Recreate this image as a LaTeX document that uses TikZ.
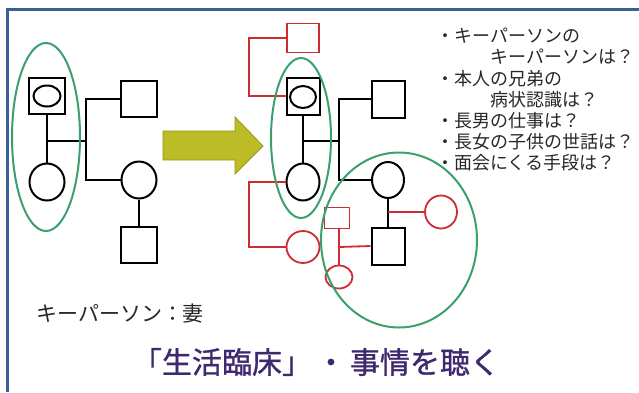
\documentclass[tikz,border=0pt]{standalone}
\usepackage{fontspec}
\newfontfamily\jp{Noto Sans CJK JP}
\newfontfamily\jpb{Noto Sans CJK JP}[FakeBold=1]
\usetikzlibrary{shapes.geometric,calc}
\definecolor{bordblue}{RGB}{58,94,150}
\definecolor{ggreen}{RGB}{60,160,110}
\definecolor{rred}{RGB}{205,45,50}
\definecolor{olive}{RGB}{188,188,38}
\definecolor{olivedark}{RGB}{150,150,25}
\definecolor{titlepurple}{RGB}{62,40,110}
\definecolor{txtgray}{RGB}{40,40,40}
\tikzset{
  blk/.style={draw=black, line width=2pt},
  rdl/.style={draw=rred, line width=1.8pt},
  lmale/.style={rectangle, blk, minimum width=36pt, minimum height=36pt, inner sep=0pt},
  lfemale/.style={ellipse, blk, minimum width=35pt, minimum height=37pt, inner sep=0pt},
  rmale/.style={rectangle, blk, minimum width=33pt, minimum height=37pt, inner sep=0pt},
  rfemale/.style={ellipse, blk, minimum width=33pt, minimum height=37pt, inner sep=0pt},
  inner/.style={ellipse, blk, inner sep=0pt},
  grn/.style={draw=ggreen, line width=2pt},
  bullet/.style={anchor=west, inner sep=0pt, text=txtgray, font=\jp\fontsize{18}{18}\selectfont},
}
\begin{document}
\begin{tikzpicture}[x=1pt,y=-1pt]
\useasboundingbox (0,0) rectangle (639,392);
\fill[white] (0,0) rectangle (639,392);
\draw[bordblue, line width=3pt] (7,392) -- (7,9) -- (639,9);

% ---------- left tree ----------
\node[lmale] (la) at (47,96) {};
\node[inner, minimum width=27pt, minimum height=21pt] (lai) at (47,96) {};
\node[lfemale] (lb) at (47,182) {};
\node[lmale] (lc) at (139,99) {};
\node[lfemale] (ld) at (139,180) {};
\node[lmale] (le) at (139,245) {};
\coordinate (lm) at (47,141);
\coordinate (lk) at (86,141);
\draw[blk] (la.south) -- (lb.north);
\draw[blk] (lm) -- (lk);
\draw[blk] (lc.west) -| (lk) |- (ld.west);
\draw[blk] (ld.south) -- (le.north);
\node[ellipse, grn, minimum width=68pt, minimum height=188pt] (lg) at (46,137) {};

% ---------- arrow ----------
\draw[fill=olive, draw=olivedark, line width=0.8pt]
  (163,131) -- (235,131) -- (235,117) -- (263,146) -- (235,174) -- (235,160) -- (163,160) -- cycle;

% ---------- right tree ----------
\node[rmale] (ra) at (303,96) {};
\node[inner, minimum width=26pt, minimum height=22pt] (rai) at (303,97) {};
\node[rfemale] (rb) at (303,182) {};
\node[rmale] (rc) at (388,99) {};
\node[rfemale, minimum width=32pt, minimum height=36pt] (rd) at (388,180) {};
\node[rmale] (re) at (388,246) {};
\coordinate (rm) at (303,141);
\coordinate (rk) at (339,141);
\draw[blk] (ra.south) -- (rb.north);
\draw[blk] (rm) -- (rk);
\draw[blk] (rc.west) -| (rk) |- (rd.west);
\draw[blk] (rd.south) -- (re.north);

% ---------- red additions ----------
\node[rectangle, rdl, minimum width=32pt, minimum height=29pt, inner sep=0pt] (rs) at (303,38) {};
\coordinate (rk1) at (249,66);
\draw[rdl] (rs.west) -| (rk1) |- (ra.west);
\node[ellipse, rdl, minimum width=33pt, minimum height=32pt, inner sep=0pt] (rr2) at (303,247) {};
\coordinate (rk2) at (249,215);
\draw[rdl] (rb.west) -| (rk2) |- (rr2.west);
\node[ellipse, rdl, minimum width=32pt, minimum height=33pt, inner sep=0pt] (rr1) at (441,212) {};
\coordinate (rdj) at (388,212);
\draw[rdl] (rdj) -- (rr1.west);
\node[rectangle, rdl, minimum width=25pt, minimum height=21pt, inner sep=0pt] (rsq) at (337,218) {};
\node[ellipse, rdl, minimum width=27pt, minimum height=23pt, inner sep=0pt] (rr3) at (339,277) {};
\draw[rdl] (rsq.south -| rr3.north) -- (rr3.north);
\coordinate (rj) at (339,247);
\draw[rdl] (rj) -- (re.west);

% ---------- green ellipses ----------
\node[ellipse, grn, minimum width=60pt, minimum height=160pt] (rg1) at (301,138) {};
\node[ellipse, grn, minimum width=156pt, minimum height=175pt] (rg2) at (399,240) {};

% ---------- texts ----------
\node[bullet] (t1) at (436,36) {・キーパーソンの};
\node[bullet] (t2) at (490,57) {キーパーソンは？};
\node[bullet] (t3) at (436,79) {・本人の兄弟の};
\node[bullet] (t4) at (490,100) {病状認識は？};
\node[bullet] (t5) at (436,121) {・長男の仕事は？};
\node[bullet] (t6) at (436,142) {・長女の子供の世話は？};
\node[bullet] (t7) at (436,163) {・面会にくる手段は？};

\node[anchor=west, inner sep=0pt, text=txtgray, font=\jp\fontsize{21}{21}\selectfont] (kp) at (36,314) {キーパーソン：妻};

\node[inner sep=0pt, text=titlepurple, font=\jpb\fontsize{30}{30}\selectfont] (title) at (316,362) {「生活臨床」\hspace{4pt}・\hspace{4pt}事情を聴く};
\end{tikzpicture}
\end{document}
